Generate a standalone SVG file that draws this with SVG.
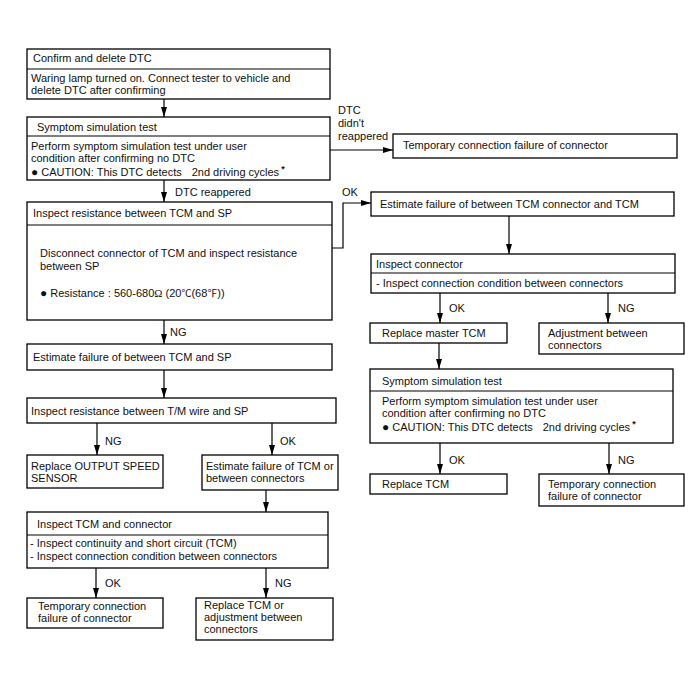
<svg xmlns="http://www.w3.org/2000/svg" width="700" height="677" viewBox="0 0 700 677">
<defs>
<marker id="arr" markerUnits="userSpaceOnUse" markerWidth="10" markerHeight="7" refX="10" refY="3.5" orient="auto">
<path d="M0,0.5 L10,3.5 L0,6.5 z" fill="#000"/>
</marker>
<style>
rect{fill:#fff;stroke:#000;stroke-width:1.3}
.d{stroke:#000;stroke-width:1.2;fill:none}
text{font-family:"Liberation Sans",Arial,sans-serif;font-size:11px;fill:#111}
.c line,.c polyline{stroke:#000;stroke-width:1.2;fill:none;marker-end:url(#arr)}
.s{font-family:"Liberation Serif",serif}
.j{font-family:"Noto Sans CJK JP",sans-serif;font-size:10px}
.b{font-size:12px}
.a{font-size:9px;font-weight:bold}
</style>
</defs>
<rect x="0" y="0" width="700" height="677" style="stroke:none"/>

<g id="n1">
<rect x="27" y="49" width="303" height="50"/>
<line class="d" x1="27" y1="69" x2="330" y2="69"/>
<text x="33" y="62">Confirm and delete DTC</text>
<text x="31" y="82">Waring lamp turned on. Connect tester to vehicle and</text>
<text x="31" y="94">delete DTC after confirming</text>
</g>

<g id="n2">
<rect x="27" y="117" width="303" height="63"/>
<line class="d" x1="27" y1="136" x2="330" y2="136"/>
<text x="37" y="131">Symptom simulation test</text>
<text x="31" y="150">Perform symptom simulation test under user</text>
<text x="31" y="162">condition after confirming no DTC</text>
<text x="31" y="176"><tspan class="b">●</tspan> CAUTION: This DTC detects<tspan dx="10">2nd driving cycles</tspan><tspan class="a" dx="2" dy="-4">*</tspan></text>
</g>

<g id="n3">
<rect x="393" y="134" width="284" height="24"/>
<text x="403" y="149">Temporary connection failure of connector</text>
</g>

<g id="n4">
<rect x="27" y="202" width="305" height="118"/>
<line class="d" x1="27" y1="225" x2="332" y2="225"/>
<text x="33" y="217">Inspect resistance between TCM and SP</text>
<text x="40" y="257">Disconnect connector of TCM and inspect resistance</text>
<text x="40" y="270">between SP</text>
<text x="40" y="297"><tspan class="b">●</tspan> Resistance : 560-680<tspan class="s">Ω</tspan> (20<tspan class="j">℃</tspan>(68<tspan class="j">℉</tspan>))</text>
</g>

<g id="n5">
<rect x="27" y="344" width="305" height="26"/>
<text x="33" y="361">Estimate failure of between TCM and SP</text>
</g>

<g id="n6">
<rect x="27" y="398" width="309" height="25"/>
<text x="31" y="415">Inspect resistance between T/M wire and SP</text>
</g>

<g id="n7">
<rect x="27" y="455" width="136" height="33"/>
<text x="31" y="470">Replace OUTPUT SPEED</text>
<text x="31" y="482">SENSOR</text>
</g>

<g id="n8">
<rect x="202" y="455" width="136" height="35"/>
<text x="206" y="470">Estimate failure of TCM or</text>
<text x="206" y="482">between connectors</text>
</g>

<g id="n9">
<rect x="27" y="512" width="301" height="56"/>
<line class="d" x1="27" y1="535" x2="328" y2="535"/>
<text x="37" y="528">Inspect TCM and connector</text>
<text x="30" y="547">- Inspect continuity and short circuit (TCM)</text>
<text x="30" y="560">- Inspect connection condition between connectors</text>
</g>

<g id="n10">
<rect x="27" y="598" width="136" height="30"/>
<text x="38" y="610">Temporary connection</text>
<text x="38" y="622">failure of connector</text>
</g>

<g id="n11">
<rect x="196" y="598" width="137" height="42"/>
<text x="204" y="609">Replace TCM or</text>
<text x="204" y="621">adjustment between</text>
<text x="204" y="633">connectors</text>
</g>

<g id="n12">
<rect x="371" y="192" width="303" height="24"/>
<text x="380" y="208">Estimate failure of between TCM connector and TCM</text>
</g>

<g id="n13">
<rect x="371" y="254" width="304" height="39"/>
<line class="d" x1="371" y1="273" x2="675" y2="273"/>
<text x="376" y="268">Inspect connector</text>
<text x="376" y="287">- Inspect connection condition between connectors</text>
</g>

<g id="n14">
<rect x="370" y="323" width="137" height="20"/>
<text x="382" y="337">Replace master TCM</text>
</g>

<g id="n15">
<rect x="539" y="323" width="145" height="31"/>
<text x="548" y="337">Adjustment between</text>
<text x="548" y="349">connectors</text>
</g>

<g id="n16">
<rect x="370" y="369" width="303" height="74"/>
<line class="d" x1="370" y1="391" x2="673" y2="391"/>
<text x="382" y="385">Symptom simulation test</text>
<text x="382" y="405">Perform symptom simulation test under user</text>
<text x="382" y="417">condition after confirming no DTC</text>
<text x="382" y="431"><tspan class="b">●</tspan> CAUTION: This DTC detects<tspan dx="10">2nd driving cycles</tspan><tspan class="a" dx="2" dy="-4">*</tspan></text>
</g>

<g id="n17">
<rect x="370" y="474" width="137" height="20"/>
<text x="382" y="488">Replace TCM</text>
</g>

<g id="n18">
<rect x="539" y="474" width="145" height="32"/>
<text x="548" y="488">Temporary connection</text>
<text x="548" y="500">failure of connector</text>
</g>

<g id="connectors" class="c">
<line x1="164" y1="99" x2="164" y2="117"/>
<line x1="330" y1="150" x2="393" y2="150"/>
<line x1="164" y1="180" x2="164" y2="202"/>
<polyline points="332,248 343,248 343,203 371,203"/>
<line x1="164" y1="320" x2="164" y2="344"/>
<line x1="164" y1="370" x2="164" y2="398"/>
<line x1="97" y1="423" x2="97" y2="455"/>
<line x1="272" y1="423" x2="272" y2="455"/>
<line x1="266" y1="490" x2="266" y2="512"/>
<line x1="96" y1="568" x2="96" y2="598"/>
<line x1="266" y1="568" x2="266" y2="598"/>
<line x1="509" y1="216" x2="509" y2="254"/>
<line x1="440" y1="293" x2="440" y2="323"/>
<line x1="608" y1="293" x2="608" y2="323"/>
<line x1="439" y1="343" x2="439" y2="369"/>
<line x1="440" y1="443" x2="440" y2="474"/>
<line x1="609" y1="443" x2="609" y2="474"/>
</g>

<g id="labels">
<text x="338" y="114">DTC</text>
<text x="338" y="127">didn't</text>
<text x="338" y="140">reappered</text>
<text x="175" y="196">DTC reappered</text>
<text x="342" y="196">OK</text>
<text x="170" y="336">NG</text>
<text x="105" y="445">NG</text>
<text x="280" y="445">OK</text>
<text x="105" y="587">OK</text>
<text x="275" y="587">NG</text>
<text x="449" y="312">OK</text>
<text x="618" y="312">NG</text>
<text x="449" y="464">OK</text>
<text x="618" y="464">NG</text>
</g>
</svg>
